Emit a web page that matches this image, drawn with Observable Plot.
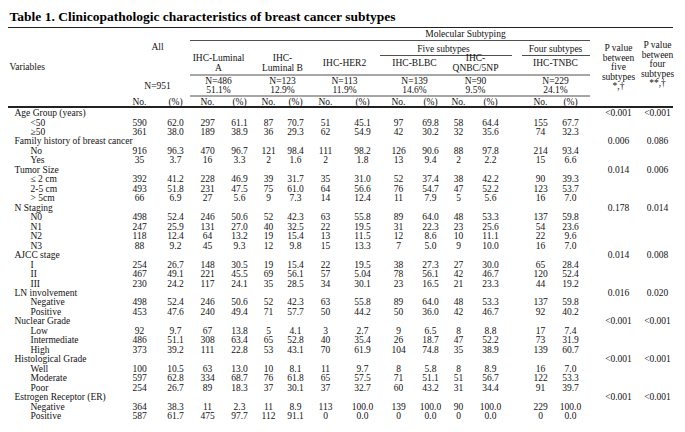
<!DOCTYPE html>
<html>
<head>
<meta charset="utf-8">
<script src="https://cdn.jsdelivr.net/npm/d3@7"></script>
<script src="https://cdn.jsdelivr.net/npm/@observablehq/plot@0.6"></script>
<style>
  html, body { margin: 0; padding: 0; background: #fff; }
  svg { display: block; }
</style>
</head>
<body>
<div id="chart"></div>
<script>
// ---------- DATA ----------
const title = "Table 1. Clinicopathologic characteristics of breast cancer subtypes";
const variables = ["Age Group (years)", "Family history of breast cancer", "Tumor Size", "N Staging", "AJCC stage", "LN involvement", "Nuclear Grade", "Histological Grade", "Estrogen Receptor (ER)"];
const levels = [["<50", "≥50"], ["No", "Yes"], ["≤ 2 cm", "2-5 cm", "> 5cm"], ["N0", "N1", "N2", "N3"], ["I", "II", "III"], ["Negative", "Positive"], ["Low", "Intermediate", "High"], ["Well", "Moderate", "Poor"], ["Negative", "Positive"]];
const pFive = ["<0.001", "0.006", "0.014", "0.178", "0.014", "0.016", "<0.001", "<0.001", "<0.001"];
const pFour = ["<0.001", "0.086", "0.006", "0.014", "0.008", "0.020", "<0.001", "<0.001", "<0.001"];

const groups = ["All", "IHC-Luminal\nA", "IHC-\nLuminal B", "IHC-HER2", "IHC-BLBC", "IHC-\nQNBC/5NP", "IHC-TNBC"];
const groupN = ["N=951", "N=486", "N=123", "N=113", "N=139", "N=90", "N=229"];
const groupShare = ["", "51.1%", "12.9%", "11.9%", "14.6%", "9.5%", "24.1%"];

const allNo   = [590, 361, 916, 35, 392, 493, 66, 498, 247, 118, 88, 254, 467, 230, 498, 453, 92, 486, 373, 100, 597, 254, 364, 587];
const allPct  = ["62.0", "38.0", "96.3", "3.7", "41.2", "51.8", "6.9", "52.4", "25.9", "12.4", "9.2", "26.7", "49.1", "24.2", "52.4", "47.6", "9.7", "51.1", "39.2", "10.5", "62.8", "26.7", "38.3", "61.7"];
const lumANo  = [297, 189, 470, 16, 228, 231, 27, 246, 131, 64, 45, 148, 221, 117, 246, 240, 67, 308, 111, 63, 334, 89, 11, 475];
const lumAPct = ["61.1", "38.9", "96.7", "3.3", "46.9", "47.5", "5.6", "50.6", "27.0", "13.2", "9.3", "30.5", "45.5", "24.1", "50.6", "49.4", "13.8", "63.4", "22.8", "13.0", "68.7", "18.3", "2.3", "97.7"];
const lumBNo  = [87, 36, 121, 2, 39, 75, 9, 52, 40, 19, 12, 19, 69, 35, 52, 71, 5, 65, 53, 10, 76, 37, 11, 112];
const lumBPct = ["70.7", "29.3", "98.4", "1.6", "31.7", "61.0", "7.3", "42.3", "32.5", "15.4", "9.8", "15.4", "56.1", "28.5", "42.3", "57.7", "4.1", "52.8", "43.1", "8.1", "61.8", "30.1", "8.9", "91.1"];
const her2No  = [51, 62, 111, 2, 35, 64, 14, 63, 22, 13, 15, 22, 57, 34, 63, 50, 3, 40, 70, 11, 65, 37, 113, 0];
const her2Pct = ["45.1", "54.9", "98.2", "1.8", "31.0", "56.6", "12.4", "55.8", "19.5", "11.5", "13.3", "19.5", "5.04", "30.1", "55.8", "44.2", "2.7", "35.4", "61.9", "9.7", "57.5", "32.7", "100.0", "0.0"];
const blbcNo  = [97, 42, 126, 13, 52, 76, 11, 89, 31, 12, 7, 38, 78, 23, 89, 50, 9, 26, 104, 8, 71, 60, 139, 0];
const blbcPct = ["69.8", "30.2", "90.6", "9.4", "37.4", "54.7", "7.9", "64.0", "22.3", "8.6", "5.0", "27.3", "56.1", "16.5", "64.0", "36.0", "6.5", "18.7", "74.8", "5.8", "51.1", "43.2", "100.0", "0.0"];
const qnbcNo  = [58, 32, 88, 2, 38, 47, 5, 48, 23, 10, 9, 27, 42, 21, 48, 42, 8, 47, 35, 8, 51, 31, 90, 0];
const qnbcPct = ["64.4", "35.6", "97.8", "2.2", "42.2", "52.2", "5.6", "53.3", "25.6", "11.1", "10.0", "30.0", "46.7", "23.3", "53.3", "46.7", "8.8", "52.2", "38.9", "8.9", "56.7", "34.4", "100.0", "0.0"];
const tnbcNo  = [155, 74, 214, 15, 90, 123, 16, 137, 54, 22, 16, 65, 120, 44, 137, 92, 17, 73, 139, 16, 122, 91, 229, 0];
const tnbcPct = ["67.7", "32.3", "93.4", "6.6", "39.3", "53.7", "7.0", "59.8", "23.6", "9.6", "7.0", "28.4", "52.4", "19.2", "59.8", "40.2", "7.4", "31.9", "60.7", "7.0", "53.3", "39.7", "100.0", "0.0"];

// ---------- LAYOUT ----------
const W = 685, H = 432;
const FONT = "'Liberation Serif', 'Times New Roman', serif";
const FS = 9.5;
const row0 = 112.5, rowStep = 9.47;
const xVar = 14, xLevel = 30;
const groupCenter = [157, 218, 282, 344, 414, 475, 555];
const colNo  = [139, 207, 268, 325, 398, 458, 540];
const colPct = [175, 239, 295, 362, 430, 490, 570];
const xP5 = 618, xP4 = 657;
const counts = [allNo, lumANo, lumBNo, her2No, blbcNo, qnbcNo, tnbcNo];
const pcts = [allPct, lumAPct, lumBPct, her2Pct, blbcPct, qnbcPct, tnbcPct];

// ---------- BUILD TABLE CELLS ----------
const leftCells = [];
const midCells = [];
let r = 0, k = 0;
variables.forEach((v, i) => {
  const yv = row0 + r * rowStep;
  leftCells.push({x: xVar, y: yv, text: v});
  midCells.push({x: xP5, y: yv, text: pFive[i]});
  midCells.push({x: xP4, y: yv, text: pFour[i]});
  r++;
  levels[i].forEach(lv => {
    const yl = row0 + r * rowStep;
    leftCells.push({x: xLevel, y: yl, text: lv});
    counts.forEach((arr, g) => {
      midCells.push({x: colNo[g], y: yl, text: String(arr[k])});
      midCells.push({x: colPct[g], y: yl, text: pcts[g][k]});
    });
    r++; k++;
  });
});

const headerMid = [];
headerMid.push({x: 465, y: 33, text: "Molecular Subtyping"});
headerMid.push({x: 443, y: 48, text: "Five subtypes"});
headerMid.push({x: 555, y: 48, text: "Four subtypes"});
groups.forEach((gname, g) => {
  if (g === 0) {
    headerMid.push({x: groupCenter[g], y: 46, text: gname});
    headerMid.push({x: groupCenter[g], y: 85, text: groupN[g]});
  } else {
    headerMid.push({x: groupCenter[g], y: 62.5, text: gname});
    headerMid.push({x: groupCenter[g], y: 85, text: groupN[g] + "\n" + groupShare[g]});
  }
  headerMid.push({x: colNo[g], y: 101, text: "No."});
  headerMid.push({x: colPct[g], y: 101, text: "(%)"});
});
headerMid.push({x: xP5, y: 66.5, text: "P value\nbetween\nfive\nsubtypes\n*,†"});
headerMid.push({x: xP4, y: 63.5, text: "P value\nbetween\nfour\nsubtypes\n**,†"});

const rules = [
  {y: 27, x1: 8, x2: 673, w: 1},
  {y: 40, x1: 190, x2: 590, w: 0.8},
  {y: 55, x1: 380, x2: 512, w: 0.8},
  {y: 55, x1: 522, x2: 590, w: 0.8},
  {y: 74.5, x1: 190, x2: 590, w: 0.8},
  {y: 95.5, x1: 190, x2: 590, w: 0.8},
  {y: 106.5, x1: 8, x2: 673, w: 2}
];

const chart = Plot.plot({
  width: W,
  height: H,
  margin: 0,
  x: {domain: [0, W], range: [0, W], axis: null},
  y: {domain: [0, H], range: [0, H], axis: null},
  style: {background: "#fff"},
  marks: [
    Plot.text([title], {x: () => 9, y: () => 16, text: d => d, textAnchor: "start", fontSize: 13.5, fontWeight: "bold", fontFamily: FONT, fill: "#000"}),
    Plot.ruleY(rules, {y: "y", x1: "x1", x2: "x2", strokeWidth: d => d.w, stroke: "#222"}),
    Plot.text([{x: 9, y: 66, text: "Variables"}], {x: "x", y: "y", text: "text", textAnchor: "start", fontSize: FS, fontFamily: FONT, fill: "#111"}),
    Plot.text(headerMid, {x: "x", y: "y", text: "text", textAnchor: "middle", lineHeight: 1, fontSize: FS, fontFamily: FONT, fill: "#111"}),
    Plot.text(leftCells, {x: "x", y: "y", text: "text", textAnchor: "start", fontSize: FS, fontFamily: FONT, fill: "#111"}),
    Plot.text(midCells, {x: "x", y: "y", text: "text", textAnchor: "middle", fontSize: FS, fontFamily: FONT, fill: "#111"})
  ]
});
document.getElementById("chart").appendChild(chart);
</script>
</body>
</html>
